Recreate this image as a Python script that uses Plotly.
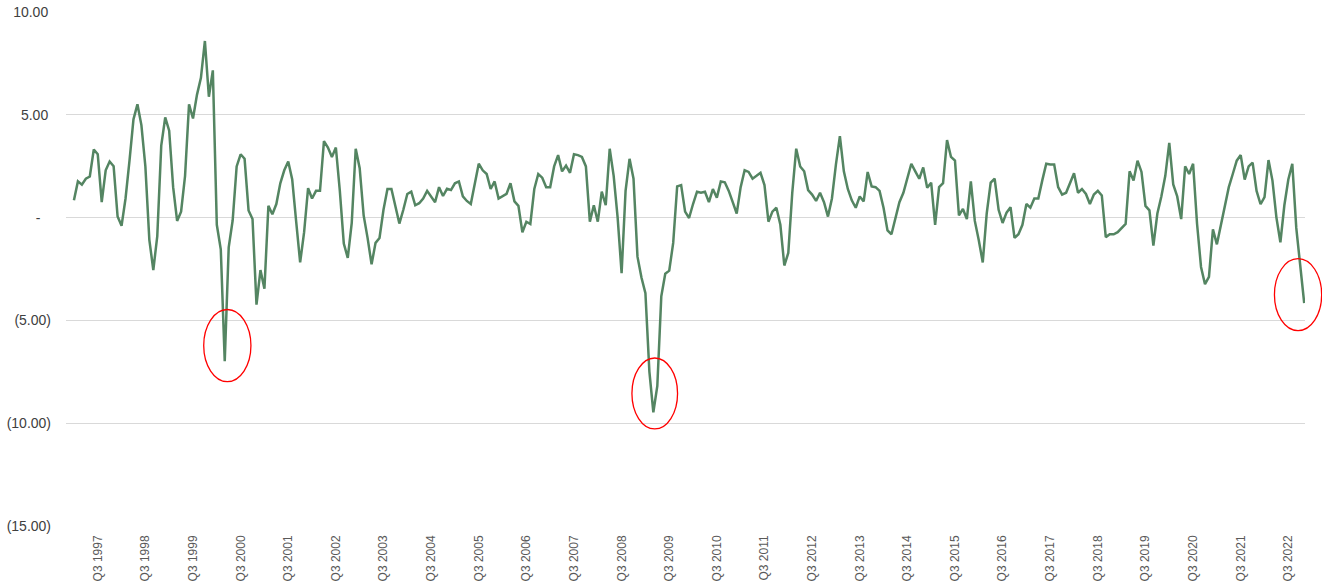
import plotly.graph_objects as go

# Monthly series, Jan 1997 .. Nov 2022 (index 0 = Jan 1997)
values = [
    0.84, 1.76, 1.6, 1.89, 2.0, 3.31, 3.08, 0.75, 2.3, 2.73, 2.5, 0.05,
    -0.4, 0.93, 2.77, 4.78, 5.51, 4.5, 2.49, -1.08, -2.55, -0.9, 3.5, 4.87,
    4.23, 1.48, -0.16, 0.29, 2.03, 5.51, 4.82, 5.97, 6.8, 8.59, 5.88, 7.16,
    -0.35, -1.54, -6.98, -1.45, -0.13, 2.49, 3.08, 2.86, 0.35, -0.07, -4.23, -2.55,
    -3.46, 0.57, 0.16, 0.66, 1.67, 2.3, 2.73, 1.85, -0.2, -2.18, -0.71, 1.43,
    0.93, 1.3, 1.3, 3.72, 3.41, 2.95, 3.41, 1.3, -1.26, -1.96, -0.26, 3.35,
    2.4, 0.11, -1.0, -2.27, -1.23, -0.99, 0.38, 1.39, 1.39, 0.57, -0.29, 0.38,
    1.15, 1.26, 0.6, 0.7, 0.93, 1.3, 1.0, 0.75, 1.48, 1.05, 1.4, 1.34,
    1.67, 1.76, 1.03, 0.81, 0.66, 1.67, 2.62, 2.3, 2.12, 1.39, 1.76, 0.93,
    1.03, 1.15, 1.67, 0.79, 0.57, -0.71, -0.2, -0.31, 1.39, 2.12, 1.94, 1.48,
    1.48, 2.49, 3.04, 2.25, 2.53, 2.18, 3.08, 3.04, 2.95, 2.49, -0.2, 0.6,
    -0.2, 1.26, 0.6, 3.35, 2.03, 0.0, -2.7, 1.3, 2.86, 1.89, -1.9, -2.91,
    -3.68, -7.49, -9.47, -8.19, -3.83, -2.73, -2.58, -1.23, 1.52, 1.58, 0.29, -0.02,
    0.66, 1.26, 1.21, 1.26, 0.75, 1.39, 0.97, 1.76, 1.72, 1.3, 0.75, 0.2,
    1.48, 2.3, 2.22, 1.89, 2.03, 2.18, 1.58, -0.2, 0.29, 0.48, -0.35, -2.33,
    -1.72, 1.2, 3.35, 2.49, 2.25, 1.34, 1.12, 0.81, 1.21, 0.75, 0.05, 0.93,
    2.58, 3.96, 2.25, 1.39, 0.84, 0.48, 1.03, 0.79, 2.22, 1.52, 1.48, 1.3,
    0.48, -0.62, -0.81, 0.02, 0.75, 1.21, 1.94, 2.62, 2.25, 1.89, 2.44, 1.45,
    1.7, -0.35, 1.48, 1.67, 3.77, 2.95, 2.77, 0.11, 0.42, -0.07, 1.76, -0.16,
    -1.1, -2.18, 0.2, 1.7, 1.89, 0.38, -0.26, 0.24, 0.51, -0.99, -0.81, -0.35,
    0.66, 0.48, 0.93, 0.93, 1.81, 2.62, 2.58, 2.58, 1.48, 1.12, 1.21, 1.67,
    2.16, 1.21, 1.39, 1.15, 0.66, 1.12, 1.3, 1.08, -0.95, -0.81, -0.81, -0.71,
    -0.53, -0.31, 2.25, 1.81, 2.77, 2.22, 0.57, 0.35, -1.36, 0.2, 1.03, 2.03,
    3.63, 1.61, 1.03, -0.07, 2.49, 2.12, 2.62, -0.3, -2.4, -3.24, -2.88, -0.57,
    -1.3, -0.35, 0.66, 1.48, 2.12, 2.77, 3.04, 1.85, 2.49, 2.67, 1.3, 0.65,
    1.0, 2.8, 1.8, 0.0, -1.2, 0.6, 1.85, 2.62, -0.5, -2.3, -4.16,
]
months = list(range(len(values)))  # month index from Jan 1997

tick_years = list(range(1997, 2023))
tick_labels = ["Q3 %d" % y for y in tick_years]
tick_months = [(y - 1997) * 12 + 6 for y in tick_years]  # July of each year

y_ticks = [10, 5, 0, -5, -10, -15]
y_labels = ["10.00\u2009", "5.00\u2009", "-\u2007\u2009", "(5.00)", "(10.00)", "(15.00)"]

# highlighted dips: (x0, x1, y0, y1) in data units
circles = [
    (32.7, 44.6, -4.47, -7.98),
    (140.6, 152.1, -6.83, -10.28),
    (302.5, 314.4, -2.0, -5.5),
]

X_RANGE = [-2, 310.2]
Y_RANGE = [-15, 10]

fig = go.Figure()
fig.add_trace(go.Scatter(
    x=months, y=values, mode="lines",
    line=dict(color="#548562", width=2.5),
    hoverinfo="skip", showlegend=False,
))


def px_x(v):
    return (v - X_RANGE[0]) / (X_RANGE[1] - X_RANGE[0])


def px_y(v):
    return (v - Y_RANGE[0]) / (Y_RANGE[1] - Y_RANGE[0])


for (x0, x1, y0, y1) in circles:
    fig.add_shape(type="circle", xref="paper", yref="paper",
                  x0=px_x(x0), x1=px_x(x1), y0=px_y(y0), y1=px_y(y1),
                  line=dict(color="#ff0000", width=1.3), layer="above")

fig.update_layout(
    width=1322, height=588,
    margin=dict(l=66, r=17, t=12, b=62, autoexpand=False),
    paper_bgcolor="white", plot_bgcolor="white",
    showlegend=False,
)
fig.update_xaxes(
    range=X_RANGE, showgrid=False, zeroline=False, showline=False,
    automargin=False,
    tickmode="array", tickvals=tick_months, ticktext=tick_labels,
    tickangle=-90, ticks="", ticklabelstandoff=6,
    tickfont=dict(family="Liberation Sans, Arial, sans-serif", size=12, color="#595959"),
)
fig.update_yaxes(
    range=Y_RANGE, showgrid=True, gridcolor="#d9d9d9", gridwidth=1,
    zeroline=False, showline=False, automargin=False,
    tickmode="array", tickvals=y_ticks, ticktext=y_labels,
    ticks="", ticklabelstandoff=14,
    tickfont=dict(family="Liberation Sans, Arial, sans-serif", size=14, color="#404040"),
)

fig.write_html(
    "out.html",
    config={"displayModeBar": False, "staticPlot": True},
    post_script="document.body.style.margin='0';document.body.style.overflow='hidden';",
)
